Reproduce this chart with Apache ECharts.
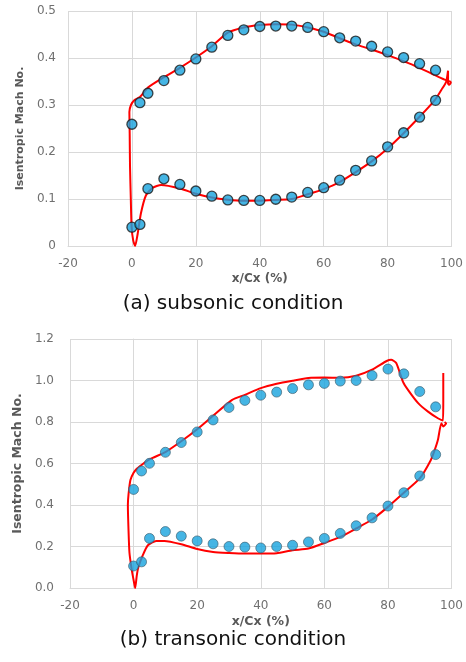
<!DOCTYPE html>
<html><head><meta charset="utf-8">
<script src="https://cdn.jsdelivr.net/npm/echarts@6/dist/echarts.min.js"></script>
<style>html,body{margin:0;padding:0;background:#fff}#c{width:466px;height:662px}</style>
</head><body><div id="c"></div>
<script>
// Measurement stations (% chord)
const stations = [0, 2.5, 5, 10, 15, 20, 25, 30, 35, 40, 45, 50, 55, 60, 65, 70, 75, 80, 85, 90, 95];

// (a) subsonic – experiment
const subSuction  = [0.259, 0.305, 0.325, 0.352, 0.374, 0.398, 0.423, 0.448, 0.460, 0.467, 0.468, 0.468, 0.465, 0.456, 0.443, 0.436, 0.425, 0.413, 0.401, 0.388, 0.374];
const subPressure = [0.040, 0.046, 0.122, 0.143, 0.131, 0.117, 0.106, 0.098, 0.097, 0.097, 0.0995, 0.104, 0.114, 0.124, 0.140, 0.161, 0.181, 0.211, 0.241, 0.274, 0.310];
// (a) subsonic – CFD loop
const subCfdX = [99.9, 97.8, 93.1, 86.9, 80, 75, 70, 65, 60, 55, 50, 45, 40, 35, 30, 25, 20, 15, 10, 5, 2.5, 0.75, -0.3, -0.8, -0.7, -0.6, -0.35, -0.1, 0.4, 1.0, 1.8, 2.8, 4.4, 6.5, 9.1, 15, 20, 25, 30, 35, 40, 45, 50, 55, 60, 65, 70, 75, 80, 85, 90, 94.7, 96.8, 98.3, 98.9, 98.9, 99.3, 99.9];
const subCfdM = [0.349, 0.354, 0.369, 0.388, 0.406, 0.418, 0.429, 0.442, 0.456, 0.465, 0.471, 0.472, 0.470, 0.465, 0.454, 0.425, 0.401, 0.379, 0.359, 0.337, 0.317, 0.310, 0.300, 0.285, 0.239, 0.17, 0.10, 0.040, 0.012, 0.0, 0.026, 0.069, 0.108, 0.124, 0.130, 0.1225, 0.111, 0.103, 0.0985, 0.0965, 0.0965, 0.098, 0.100, 0.110, 0.121, 0.136, 0.157, 0.180, 0.2075, 0.240, 0.275, 0.310, 0.332, 0.349, 0.373, 0.346, 0.343, 0.349];

// (b) transonic – experiment
const tranSuction  = [0.475, 0.564, 0.601, 0.654, 0.701, 0.752, 0.810, 0.870, 0.904, 0.929, 0.944, 0.961, 0.979, 0.986, 0.997, 1.000, 1.024, 1.055, 1.032, 0.947, 0.873];
const tranPressure = [0.106, 0.126, 0.239, 0.272, 0.250, 0.227, 0.213, 0.200, 0.197, 0.193, 0.200, 0.206, 0.222, 0.239, 0.263, 0.300, 0.338, 0.395, 0.459, 0.540, 0.643];
// (b) transonic – CFD loop
const tranCfdX = [97.4, 97.4, 97.3, 95.7, 92.6, 89.5, 86.3, 84.7, 82.6, 81.0, 79.6, 75, 70, 65, 60, 55, 50, 45, 40, 35, 31, 25, 20, 15, 10, 5, 2.5, 1, 0, -1, -1.6, -1.8, -1.6, -1.3, -0.6, 0.1, 0.5, 1.0, 1.5, 2.9, 4.5, 7.1, 9.7, 15, 20, 25, 30, 35, 40, 45, 50, 55, 60, 65, 70, 75, 80, 85, 90, 93.5, 94.7, 95.7, 96.8, 97.4, 97.9, 98.3, 97.8];
const tranCfdM = [1.036, 0.90, 0.807, 0.818, 0.850, 0.891, 0.955, 0.995, 1.084, 1.100, 1.094, 1.052, 1.023, 1.013, 1.014, 1.012, 0.999, 0.984, 0.963, 0.931, 0.907, 0.830, 0.765, 0.707, 0.655, 0.620, 0.593, 0.575, 0.555, 0.520, 0.450, 0.400, 0.280, 0.170, 0.090, 0.030, 0.0, 0.060, 0.100, 0.158, 0.206, 0.227, 0.227, 0.211, 0.188, 0.174, 0.169, 0.166, 0.166, 0.168, 0.182, 0.190, 0.217, 0.246, 0.287, 0.330, 0.391, 0.459, 0.528, 0.617, 0.665, 0.713, 0.794, 0.778, 0.785, 0.794, 0.800];

const xTicks = [-20, 0, 20, 40, 60, 80, 100];
const subYTicks = [0, 0.1, 0.2, 0.3, 0.4, 0.5];
const tranYTicks = [0, 0.2, 0.4, 0.6, 0.8, 1.0, 1.2];
const captions = ['(a) subsonic condition', '(b) transonic condition'];
const xName = 'x/Cx (%)';
const yName = 'Isentropic Mach No.';

const pairs = (xs, ys) => xs.map((x, i) => [x, ys[i]]);
const FONT = '"DejaVu Sans", "Noto Sans", sans-serif';
const gridColor = '#d9d9d9';
const labelColor = '#707070';
const nameColor = '#595959';

function xAxis(gi, fs, nfs) {
  return {
    type: 'value', gridIndex: gi, min: xTicks[0], max: xTicks[xTicks.length - 1], interval: 20,
    name: xName, nameLocation: 'middle', nameGap: 27,
    nameTextStyle: { fontFamily: FONT, fontWeight: 'bold', fontSize: nfs, color: nameColor },
    axisLine: { lineStyle: { color: gridColor } }, axisTick: { show: false },
    axisLabel: { fontFamily: FONT, fontSize: fs, color: labelColor, margin: 12 },
    splitLine: { lineStyle: { color: gridColor } }
  };
}
function yAxis(gi, ticks, fs, nfs, gap, fmt, margin) {
  return {
    type: 'value', gridIndex: gi, min: ticks[0], max: ticks[ticks.length - 1], interval: ticks[1] - ticks[0],
    name: yName, nameLocation: 'middle', nameGap: gap,
    nameTextStyle: { fontFamily: FONT, fontWeight: 'bold', fontSize: nfs, color: nameColor },
    axisLine: { show: true, lineStyle: { color: gridColor } }, axisTick: { show: false },
    axisLabel: { fontFamily: FONT, fontSize: fs, color: labelColor, margin: margin, formatter: fmt },
    splitLine: { lineStyle: { color: gridColor } }
  };
}
function markers(gi, ys, border, bw) {
  return {
    type: 'scatter', xAxisIndex: gi, yAxisIndex: gi, data: pairs(stations, ys),
    symbol: 'circle', symbolSize: 10, z: 5,
    itemStyle: { color: '#17a3dd', borderColor: border, borderWidth: bw }
  };
}
function cfd(gi, xs, ys) {
  return {
    type: 'line', xAxisIndex: gi, yAxisIndex: gi, data: pairs(xs, ys),
    showSymbol: false, smooth: 0.2, z: 3,
    lineStyle: { color: '#ff0000', width: 2 }
  };
}

const chart = echarts.init(document.getElementById('c'), null, { renderer: 'canvas' });
chart.setOption({
  backgroundColor: '#fff',
  animation: false,
  title: [
    { text: captions[0], left: 'center', top: 289, textStyle: { fontFamily: FONT, fontWeight: 'normal', fontSize: 20, color: '#111' } },
    { text: captions[1], left: 'center', top: 625, textStyle: { fontFamily: FONT, fontWeight: 'normal', fontSize: 20, color: '#111' } }
  ],
  grid: [
    { left: 68, right: 14, top: 11, bottom: 416 },
    { left: 70, right: 12, top: 339, bottom: 74 }
  ],
  xAxis: [xAxis(0, 12, 12), xAxis(1, 12, 12.5)],
  yAxis: [
    yAxis(0, subYTicks, 12, 11, 35, v => String(+v.toFixed(1)), 12),
    yAxis(1, tranYTicks, 12, 12.5, 41, v => v.toFixed(1), 16)
  ],
  series: [
    cfd(0, subCfdX, subCfdM),
    markers(0, subSuction, '#1a1a1a', 1.3),
    markers(0, subPressure, '#1a1a1a', 1.3),
    cfd(1, tranCfdX, tranCfdM),
    markers(1, tranSuction, '#3a5a6a', 0.8),
    markers(1, tranPressure, '#3a5a6a', 0.8)
  ]
});
</script>
</body></html>
